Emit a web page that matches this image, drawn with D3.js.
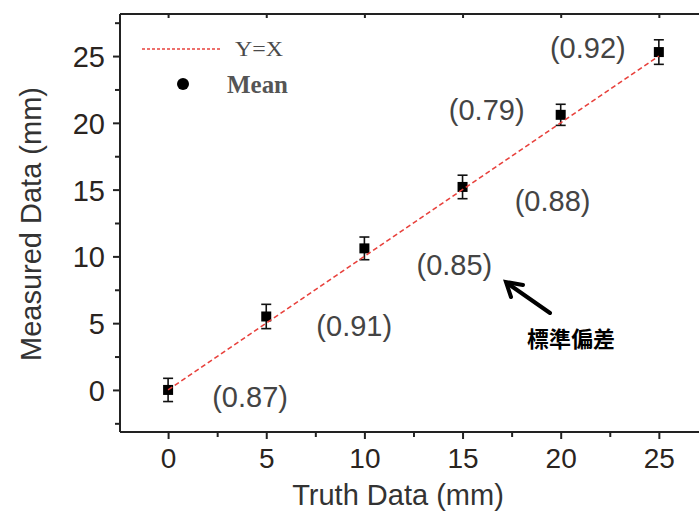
<!DOCTYPE html>
<html><head><meta charset="utf-8">
<script src="https://cdn.jsdelivr.net/npm/d3@7"></script>
<style>body{margin:0;background:#fff}svg{display:block}</style>
</head><body>
<svg id="c" width="699" height="511"></svg>
<script>
const truth = [0, 5, 10, 15, 20, 25];
const measured = [0.0, 5.5, 10.6, 15.2, 20.6, 25.3];
const stdDev = [0.87, 0.91, 0.85, 0.88, 0.79, 0.92];
const stdLabels = ["(0.87)", "(0.91)", "(0.85)", "(0.88)", "(0.79)", "(0.92)"];
const majorTicks = [0, 5, 10, 15, 20, 25];
const minorTicksY = [-2.5, 2.5, 7.5, 12.5, 17.5, 22.5, 27.5];
const minorTicksX = [2.5, 7.5, 12.5, 17.5, 22.5];
const lineY = [0, 25];

const svg = d3.select("#c");
const L = 120, R = 704, T = 14, B = 432;
const x = d3.scaleLinear().domain([-2.45, 27.3]).range([L, R]);
const y = d3.scaleLinear().domain([-3.15, 28.15]).range([B, T]);
const axisColor = "#222";

// frame lines
svg.append("line").attr("x1", L).attr("x2", R).attr("y1", T).attr("y2", T).attr("stroke", axisColor).attr("stroke-width", 2);
svg.append("line").attr("x1", L).attr("x2", L).attr("y1", T).attr("y2", B).attr("stroke", axisColor).attr("stroke-width", 2);
svg.append("line").attr("x1", L).attr("x2", R).attr("y1", B).attr("y2", B).attr("stroke", axisColor).attr("stroke-width", 2);

// x axis
const xa = svg.append("g").attr("transform", `translate(0,${B})`)
  .call(d3.axisBottom(x).tickValues(majorTicks).tickSize(7).tickPadding(9).tickFormat(d3.format("d")));
xa.select(".domain").remove();
xa.selectAll("line").attr("stroke", axisColor).attr("stroke-width", 2);
xa.selectAll("text").attr("font-family", "Liberation Sans, Arial, sans-serif").attr("font-size", 28).attr("fill", "#2a2420");
const xm = svg.append("g").attr("transform", `translate(0,${B})`)
  .call(d3.axisBottom(x).tickValues(minorTicksX).tickSize(5).tickFormat(""));
xm.select(".domain").remove();
xm.selectAll("line").attr("stroke", axisColor).attr("stroke-width", 2);

// top ticks (inward)
const xt = svg.append("g").attr("transform", `translate(0,${T})`)
  .call(d3.axisTop(x).tickValues(majorTicks).tickSize(-4).tickFormat(""));
xt.select(".domain").remove();
xt.selectAll("line").attr("stroke", axisColor).attr("stroke-width", 2);

// y axis
const ya = svg.append("g").attr("transform", `translate(${L},0)`)
  .call(d3.axisLeft(y).tickValues(majorTicks).tickSize(7).tickPadding(8).tickFormat(d3.format("d")));
ya.select(".domain").remove();
ya.selectAll("line").attr("stroke", axisColor).attr("stroke-width", 2);
ya.selectAll("text").attr("font-family", "Liberation Sans, Arial, sans-serif").attr("font-size", 29).attr("fill", "#2a2420").attr("dy", "0.36em");
const ym = svg.append("g").attr("transform", `translate(${L},0)`)
  .call(d3.axisLeft(y).tickValues(minorTicksY).tickSize(5).tickFormat(""));
ym.select(".domain").remove();
ym.selectAll("line").attr("stroke", axisColor).attr("stroke-width", 2);

// axis titles
svg.append("text").attr("x", 398).attr("y", 505).attr("text-anchor", "middle")
  .attr("font-family", "Liberation Sans, Arial, sans-serif").attr("font-size", 29).attr("fill", "#333")
  .text("Truth Data (mm)");
svg.append("text").attr("transform", "translate(41,224) rotate(-90)").attr("text-anchor", "middle")
  .attr("font-family", "Liberation Sans, Arial, sans-serif").attr("font-size", 29).attr("fill", "#333")
  .text("Measured Data (mm)");

// error bars
const data = truth.map((t, i) => ({t, m: measured[i], s: stdDev[i], lab: stdLabels[i]}));
const eb = svg.append("g").attr("stroke", "#111").attr("stroke-width", 1.6);
data.forEach(d => {
  eb.append("line").attr("x1", x(d.t)).attr("x2", x(d.t)).attr("y1", y(d.m - d.s)).attr("y2", y(d.m + d.s));
  [d.m - d.s, d.m + d.s].forEach(v => eb.append("line").attr("x1", x(d.t) - 5).attr("x2", x(d.t) + 5).attr("y1", y(v)).attr("y2", y(v)));
});
// markers
svg.append("g").selectAll("rect").data(data).join("rect")
  .attr("x", d => x(d.t) - 5).attr("y", d => y(d.m) - 5).attr("width", 10).attr("height", 10).attr("fill", "#000");

// Y=X line
svg.append("line").attr("x1", x(lineY[0])).attr("y1", y(lineY[0])).attr("x2", x(lineY[1])).attr("y2", y(lineY[1]))
  .attr("stroke", "#e8413c").attr("stroke-width", 1.6).attr("stroke-dasharray", "5,3");

// std labels (pixel offsets from point)
const labelOffsets = [[82, 7], [88, 9], [90, 16], [90, 14], [-74, -5], [-71, -5]];
svg.append("g").selectAll("text").data(data).join("text")
  .attr("x", (d, i) => x(d.t) + labelOffsets[i][0])
  .attr("y", (d, i) => y(d.m) + labelOffsets[i][1])
  .attr("dy", "0.36em").attr("text-anchor", "middle")
  .attr("font-family", "Liberation Sans, Arial, sans-serif").attr("font-size", 29).attr("fill", "#444")
  .text(d => d.lab);

// legend
svg.append("line").attr("x1", 142).attr("x2", 221).attr("y1", 49).attr("y2", 49)
  .attr("stroke", "#e8413c").attr("stroke-width", 1.6).attr("stroke-dasharray", "3,2");
svg.append("text").attr("x", 235).attr("y", 56).attr("font-family", "Liberation Serif, serif").attr("font-size", 20)
  .attr("textLength", 48).attr("lengthAdjust", "spacingAndGlyphs").attr("fill", "#4a4a4a").text("Y=X");
svg.append("circle").attr("cx", 183).attr("cy", 84).attr("r", 6).attr("fill", "#000");
svg.append("text").attr("x", 227).attr("y", 93).attr("font-family", "Liberation Serif, serif").attr("font-size", 25)
  .attr("font-weight", "bold").attr("textLength", 61).attr("lengthAdjust", "spacingAndGlyphs").attr("fill", "#555").text("Mean");

// arrow annotation
const ar = svg.append("g").attr("stroke", "#000").attr("stroke-width", 4).attr("stroke-linecap", "round").attr("fill", "none");
ar.append("line").attr("x1", 550).attr("y1", 313).attr("x2", 507).attr("y2", 283);
ar.append("polyline").attr("points", "523,285 506,282 511,297");
svg.append("text").attr("x", 571).attr("y", 347).attr("text-anchor", "middle")
  .attr("font-family", "Noto Sans CJK TC, sans-serif").attr("font-weight", "bold").attr("font-size", 22)
  .attr("fill", "#000").text("標準偏差");
</script>
</body></html>
